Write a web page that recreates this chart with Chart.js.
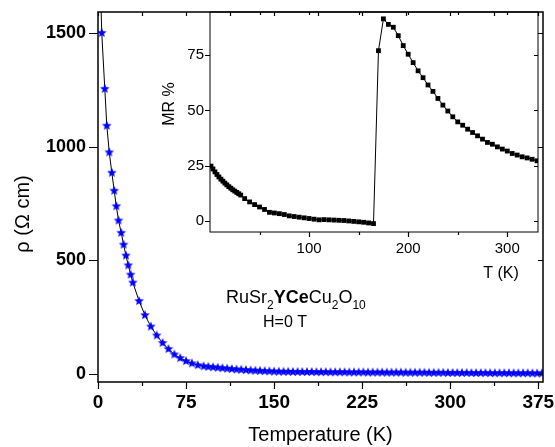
<!DOCTYPE html>
<html>
<head>
<meta charset="utf-8">
<script src="https://cdn.jsdelivr.net/npm/chart.js@4"></script>
<style>
  body { margin: 0; background: #fff; }
  #wrap { position: relative; width: 555px; height: 447px; }
  #wrap canvas { position: absolute; left: 0; top: 0; }
</style>
</head>
<body>
<div id="wrap">
  <canvas id="mainChart" width="555" height="447"></canvas>
  <canvas id="insetChart" width="555" height="447"></canvas>
</div>
<script>
// Main panel: resistivity vs temperature (H = 0 T)
const tempK = [2, 3.2, 5.8, 7.5, 9.6, 11.8, 13.8, 15.6, 17.5, 19.8, 21.8, 23.8, 25.8, 27.8, 29.7,
  35, 40, 45, 50, 55, 60, 65, 70, 75, 80, 85, 90,
  94, 98, 102, 106, 110, 114, 118, 122, 126, 130, 134, 138, 142, 146, 150, 154, 158, 162,
  166, 170, 174, 178, 182, 186, 190, 194, 198, 202, 206, 210, 214, 218, 222, 226, 230, 234,
  238, 242, 246, 250, 254, 258, 262, 266, 270, 274, 278, 282, 286, 290, 294, 298, 302, 306,
  310, 314, 318, 322, 326, 330, 334, 338, 342, 346, 350, 354, 358, 362, 366, 370, 374, 378];
const rho = [1720, 1500, 1254, 1092, 975, 885, 806, 738, 675, 621, 569, 521, 478, 437, 402,
  321, 259, 209, 170, 137, 110, 86, 70, 57, 47, 39, 34,
  32, 30, 28, 26, 24, 22, 20, 19, 17.5, 16, 15, 14, 13, 12, 11, 10.5, 10, 10,
  9.5, 9.5, 9, 9, 9, 8.5, 8.5, 8.5, 8, 8, 8, 8, 7.5, 7.5, 7.5, 7.5, 7, 7,
  7, 7, 6.5, 6.5, 6.5, 6.5, 6, 6, 6, 6, 6, 5.5, 5.5, 5.5, 5.5, 5, 5, 5,
  5, 5, 4.5, 4.5, 4.5, 4.5, 4, 4, 4, 4, 4, 3.5, 3.5, 3.5, 3.5, 3, 3, 3];
const xTicks = [0, 75, 150, 225, 300, 375];
const xMinor = [37.5, 112.5, 187.5, 262.5, 337.5];
const yTicks = [0, 500, 1000, 1500];

// Inset: magnetoresistance vs temperature
const mrT = [1, 3, 5, 7, 9, 11, 13, 15, 17, 19, 21, 23, 25, 27, 29, 31,
  35, 40, 45, 50, 55, 60, 65, 70, 75, 80, 85, 90, 95, 100, 105, 110, 115, 120,
  125, 130, 135, 140, 145, 150, 155, 160, 165,
  170, 175, 180, 185, 190, 195, 200, 205, 210, 215, 220, 225, 230, 235, 240, 245,
  250, 255, 260, 265, 270, 275, 280, 285, 290, 295, 300, 305, 310, 315, 320, 325, 330];
const mr = [24.8, 23.5, 22.2, 21, 19.9, 18.9, 18, 17.1, 16.3, 15.5, 14.8, 14.1, 13.5, 12.9, 12.3, 11.7,
  10.1, 8.6, 7.4, 6.3, 5.2, 3.9, 3.6, 3.3, 2.9, 2.3, 2.0, 1.7, 1.4, 1.1, 0.8, 0.5, 0.6, 0.5,
  0.4, 0.3, 0.2, 0, -0.2, -0.4, -0.6, -0.9, -1.2,
  77, 91.4, 88.9, 87.6, 83.8, 79.3, 75.4, 71.6, 67.9, 64.8, 61.5, 58.6, 55.4, 52.4, 49.7, 47.1,
  44.8, 43.3, 41.5, 40, 38.5, 37, 35.5, 34.7, 33.5, 32.5, 31.6, 30.5, 29.8, 29, 28.5, 27.9, 27.2];
const insetXTicks = [100, 200, 300];
const insetXMinor = [50, 150, 250];
const insetYTicks = [0, 25, 50, 75];

const FONT = '"Liberation Sans", Arial, sans-serif';

// filled blue star used as point marker
function makeStar(r, color) {
  const s = Math.ceil(r * 2 + 2);
  const c = document.createElement('canvas');
  c.width = c.height = s;
  const g = c.getContext('2d');
  g.fillStyle = color;
  g.beginPath();
  for (let i = 0; i < 10; i++) {
    const a = -Math.PI / 2 + i * Math.PI / 5;
    const rr = i % 2 ? r * 0.45 : r;
    g.lineTo(s / 2 + rr * Math.cos(a), s / 2 + rr * Math.sin(a));
  }
  g.closePath();
  g.fill();
  return c;
}
const star = makeStar(5, '#0000ff');

// draws the box and all tick marks for a panel
function boxPlugin(cfg) {
  return {
    id: 'box',
    afterDraw(chart) {
      const { ctx, chartArea: a, scales: { x, y } } = chart;
      ctx.save();
      ctx.strokeStyle = '#000';
      ctx.lineWidth = cfg.frameWidth;
      ctx.strokeRect(a.left, a.top, a.right - a.left, a.bottom - a.top);
      ctx.lineWidth = 1.2;
      ctx.beginPath();
      cfg.xMajor.forEach(v => {
        const px = Math.round(x.getPixelForValue(v)) + 0.5;
        ctx.moveTo(px, a.bottom); ctx.lineTo(px, a.bottom + cfg.major);
        ctx.moveTo(px, a.top); ctx.lineTo(px, a.top + cfg.top);
      });
      cfg.xMinor.forEach(v => {
        const px = Math.round(x.getPixelForValue(v)) + 0.5;
        ctx.moveTo(px, a.bottom); ctx.lineTo(px, a.bottom + cfg.minor);
        ctx.moveTo(px, a.top); ctx.lineTo(px, a.top + cfg.top);
      });
      cfg.yMajor.forEach(v => {
        const py = Math.round(y.getPixelForValue(v)) + 0.5;
        ctx.moveTo(a.left, py); ctx.lineTo(a.left - cfg.yMajorLen, py);
        ctx.moveTo(a.right, py); ctx.lineTo(a.right - cfg.top - 1, py);
      });
      ctx.stroke();
      if (cfg.text) cfg.text(ctx, a);
      ctx.restore();
    }
  };
}

function drawMainText(ctx, a) {
  ctx.fillStyle = '#000';
  ctx.textBaseline = 'alphabetic';
  ctx.textAlign = 'center';
  ctx.font = '20px ' + FONT;
  ctx.fillText('Temperature (K)', (a.left + a.right) / 2, 441);
  ctx.save();
  ctx.translate(29, 214);
  ctx.rotate(-Math.PI / 2);
  ctx.fillText('\u03c1 (\u03a9 cm)', 0, 0);
  ctx.restore();

  // RuSr2YCeCu2O10 with subscripts
  const parts = [
    ['RuSr', '18px ' + FONT, 0], ['2', '12px ' + FONT, 6],
    ['YCe', 'bold 18px ' + FONT, 0], ['Cu', '18px ' + FONT, 0], ['2', '12px ' + FONT, 6],
    ['O', '18px ' + FONT, 0], ['10', '12px ' + FONT, 6]
  ];
  ctx.textAlign = 'left';
  let cx = 226;
  parts.forEach(([t, f, dy]) => {
    ctx.font = f;
    ctx.fillText(t, cx, 303 + dy);
    cx += ctx.measureText(t).width;
  });
  ctx.font = '16px ' + FONT;
  ctx.fillText('H=0 T', 263, 327);
}

function drawInsetText(ctx, a) {
  ctx.fillStyle = '#000';
  ctx.textAlign = 'center';
  ctx.textBaseline = 'alphabetic';
  ctx.font = '16px ' + FONT;
  ctx.fillText('T (K)', 501, 278);
  ctx.save();
  ctx.translate(174, 104);
  ctx.rotate(-Math.PI / 2);
  ctx.fillText('MR %', 0, 0);
  ctx.restore();
}

function axis(min, max, ticks, font, padding, fit) {
  return {
    type: 'linear', min, max,
    grid: { display: true, drawOnChartArea: false, drawTicks: false },
    border: { display: false },
    afterBuildTicks: s => { s.ticks = ticks.map(v => ({ value: v })); },
    afterFit: s => {
      fit(s);
      s.paddingTop = 0; s.paddingBottom = 0;
      s.paddingLeft = 0; s.paddingRight = 0;
    },
    ticks: { color: '#000', font, padding, autoSkip: false, maxRotation: 0, callback: v => String(v) }
  };
}

new Chart(document.getElementById('mainChart'), {
  type: 'line',
  data: {
    datasets: [{
      data: tempK.map((t, i) => ({ x: t, y: rho[i] })),
      borderColor: '#000',
      borderWidth: 1,
      tension: 0,
      pointStyle: star,
      pointRadius: 5,
      backgroundColor: '#0000ff'
    }]
  },
  options: {
    responsive: false,
    animation: false,
    layout: { padding: { top: 12, right: 12, left: 0, bottom: 0 } },
    plugins: { legend: { display: false }, tooltip: { enabled: false } },
    scales: {
      x: axis(0, 379, xTicks, { family: FONT, size: 19, weight: 'bold' }, 9, s => { s.height = 65; }),
      y: axis(-35, 1592, yTicks, { family: FONT, size: 18, weight: 'bold' }, 12, s => { s.width = 98; })
    }
  },
  plugins: [boxPlugin({
    frameWidth: 1.5, xMajor: xTicks, xMinor: xMinor, yMajor: yTicks,
    major: 7, minor: 4, top: 4, yMajorLen: 9, text: drawMainText
  })]
});

new Chart(document.getElementById('insetChart'), {
  type: 'line',
  data: {
    datasets: [{
      data: mrT.map((t, i) => ({ x: t, y: mr[i] })),
      borderColor: '#000',
      borderWidth: 1,
      tension: 0,
      pointStyle: 'rect',
      pointRadius: 3.4,
      pointBorderWidth: 0,
      backgroundColor: '#000'
    }]
  },
  options: {
    responsive: false,
    animation: false,
    layout: { padding: { top: 12, right: 17, left: 0, bottom: 0 } },
    plugins: { legend: { display: false }, tooltip: { enabled: false } },
    scales: {
      x: axis(0, 331, insetXTicks, { family: FONT, size: 15 }, 8, s => { s.height = 215; }),
      y: axis(-5, 94.5, insetYTicks, { family: FONT, size: 15 }, 6, s => { s.width = 210; })
    }
  },
  plugins: [boxPlugin({
    frameWidth: 1, xMajor: insetXTicks, xMinor: insetXMinor, yMajor: insetYTicks,
    major: 5, minor: 3, top: 3, yMajorLen: 5, text: drawInsetText
  })]
});
</script>
</body>
</html>
